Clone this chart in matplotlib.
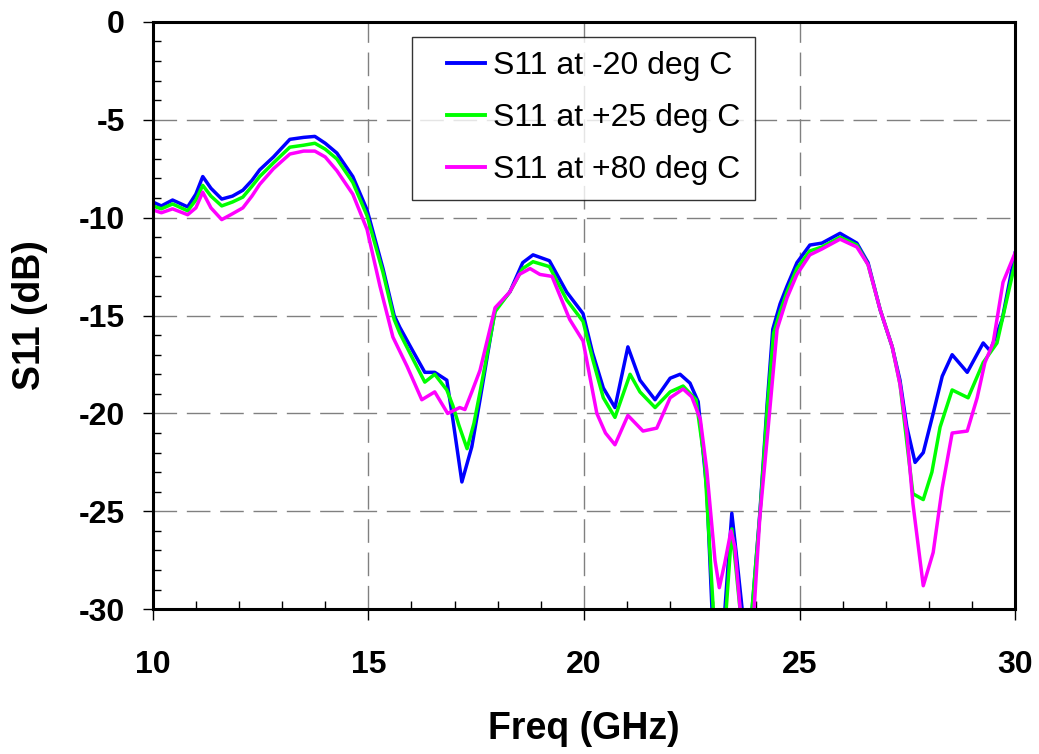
import matplotlib.pyplot as plt
from matplotlib.ticker import MultipleLocator
from matplotlib.legend_handler import HandlerLine2D

# S11 vs frequency at three temperatures
freq_m20 = [10.0, 10.2, 10.46, 10.81, 11.0, 11.16, 11.35, 11.6, 11.85, 12.09, 12.3, 12.48, 12.8,
            13.18, 13.5, 13.76, 14.0, 14.27, 14.64, 14.97, 15.34, 15.6, 15.73, 16.03, 16.31, 16.54,
            16.82, 16.96, 17.17, 17.4, 17.59, 17.94, 18.28, 18.58, 18.82, 19.2, 19.6, 19.98, 20.2,
            20.45, 20.72, 21.02, 21.3, 21.65, 22.0, 22.23, 22.46, 22.65, 22.85, 22.97, 23.1, 23.27,
            23.43, 23.55, 23.67, 23.78, 23.9, 24.08, 24.25, 24.38, 24.55, 24.71, 24.94, 25.24, 25.52,
            25.94, 26.33, 26.59, 26.87, 27.15, 27.33, 27.49, 27.68, 27.87, 28.1, 28.31, 28.54, 28.89,
            29.26, 29.42, 29.7, 30.0]
s11_m20 = [-9.2, -9.4, -9.1, -9.45, -8.8, -7.9, -8.5, -9.05, -8.9, -8.6, -8.1, -7.56, -6.9,
           -6.0, -5.9, -5.85, -6.2, -6.7, -7.9, -9.6, -12.6, -15.0, -15.6, -16.8, -17.9, -17.9,
           -18.3, -20.3, -23.5, -21.7, -19.3, -14.7, -13.8, -12.3, -11.9, -12.2, -13.8, -14.9, -16.9,
           -18.7, -19.7, -16.6, -18.3, -19.3, -18.2, -18.0, -18.45, -19.4, -23.9, -30.0, -32.0, -30.0,
           -25.1, -27.5, -30.0, -32.0, -30.0, -25.1, -19.5, -15.7, -14.4, -13.5, -12.3, -11.4, -11.3,
           -10.8, -11.3, -12.3, -14.7, -16.6, -18.3, -20.7, -22.5, -22.0, -20.0, -18.1, -17.0, -17.9,
           -16.4, -16.8, -15.2, -11.8]

freq_p25 = [10.0, 10.2, 10.46, 10.81, 11.0, 11.16, 11.35, 11.6, 11.85, 12.09, 12.3, 12.48, 12.8,
            13.18, 13.5, 13.76, 14.0, 14.27, 14.64, 14.97, 15.34, 15.6, 15.73, 16.03, 16.31, 16.54,
            16.82, 16.96, 17.1, 17.29, 17.45, 17.6, 17.94, 18.28, 18.58, 18.82, 19.2, 19.6, 19.98,
            20.2, 20.45, 20.72, 21.07, 21.3, 21.65, 22.0, 22.3, 22.6, 22.8, 23.0, 23.15, 23.3, 23.43,
            23.53, 23.62, 23.75, 23.9, 24.08, 24.25, 24.4, 24.55, 24.71, 24.94, 25.24, 25.52, 25.94,
            26.33, 26.59, 26.87, 27.15, 27.33, 27.49, 27.63, 27.87, 28.07, 28.26, 28.54, 28.91, 29.26,
            29.58, 30.0]
s11_p25 = [-9.4, -9.55, -9.3, -9.65, -9.1, -8.35, -8.9, -9.4, -9.2, -8.95, -8.4, -7.9, -7.2,
           -6.4, -6.3, -6.2, -6.5, -7.0, -8.2, -9.9, -12.8, -15.2, -15.9, -17.2, -18.4, -18.0,
           -18.8, -19.6, -20.6, -21.8, -20.5, -18.8, -14.8, -13.8, -12.6, -12.25, -12.5, -14.2, -15.3,
           -17.2, -19.2, -20.2, -18.0, -18.9, -19.7, -18.9, -18.6, -19.3, -22.5, -30.0, -32.0, -30.0, -25.9,
           -28.0, -30.0, -32.0, -30.0, -25.2, -19.8, -15.9, -14.8, -13.8, -12.6, -11.7, -11.5, -11.0,
           -11.4, -12.4, -14.7, -16.6, -18.5, -21.5, -24.1, -24.4, -23.0, -20.7, -18.8, -19.2, -17.4,
           -16.4, -12.3]

freq_p80 = [10.0, 10.2, 10.46, 10.81, 11.0, 11.16, 11.35, 11.6, 11.85, 12.09, 12.3, 12.48, 12.8,
            13.18, 13.5, 13.76, 14.0, 14.27, 14.64, 14.97, 15.27, 15.57, 15.9, 16.24, 16.54, 16.84,
            17.12, 17.24, 17.4, 17.59, 17.94, 18.28, 18.5, 18.75, 18.98, 19.26, 19.67, 19.98, 20.3,
            20.5, 20.72, 21.02, 21.37, 21.69, 22.0, 22.3, 22.5, 22.7, 22.85, 23.04, 23.14, 23.27, 23.41,
            23.5, 23.62, 23.75, 23.95, 24.08, 24.27, 24.48, 24.71, 24.94, 25.24, 25.52, 25.94, 26.33,
            26.59, 26.87, 27.15, 27.33, 27.49, 27.63, 27.87, 28.1, 28.31, 28.54, 28.89, 29.12, 29.3,
            29.49, 29.72, 30.0]
s11_p80 = [-9.6, -9.75, -9.55, -9.85, -9.5, -8.7, -9.5, -10.1, -9.8, -9.5, -8.9, -8.3, -7.5,
           -6.75, -6.6, -6.6, -6.9, -7.6, -8.8, -10.6, -13.5, -16.1, -17.6, -19.3, -18.9, -20.0,
           -19.7, -19.8, -18.9, -17.8, -14.6, -13.8, -12.9, -12.6, -12.9, -13.0, -15.2, -16.3, -20.0,
           -21.0, -21.6, -20.1, -20.9, -20.75, -19.2, -18.75, -19.15, -20.3, -22.9, -27.5, -28.9, -27.6, -26.0,
           -26.8, -29.9, -32.0, -29.9, -25.3, -20.8, -15.7, -14.1, -12.9, -11.9, -11.6, -11.1, -11.5,
           -12.4, -14.7, -16.6, -18.5, -21.0, -24.6, -28.8, -27.1, -23.8, -21.0, -20.9, -19.2, -17.4,
           -16.4, -13.3, -11.8]

labels = ["S11 at -20 deg C", "S11 at +25 deg C", "S11 at +80 deg C"]

plt.rcParams['font.family'] = ['Liberation Sans', 'DejaVu Sans']
plt.rcParams['axes.unicode_minus'] = False


class ShortLine(HandlerLine2D):
    # legend line drawn only on the right part of the handle box (Excel-like indent)
    def get_xdata(self, legend, xdescent, ydescent, width, height, fontsize):
        xs = [-xdescent + 0.35 * width, -xdescent + width]
        return xs, xs


fig = plt.figure(figsize=(10.39, 7.54), dpi=100)
ax = fig.add_axes([0.147, 0.192, 0.83, 0.779])

ax.plot(freq_m20, s11_m20, color='#0000ff', lw=2.5, label=labels[0])
ax.plot(freq_p25, s11_p25, color='#00ff00', lw=2.5, label=labels[1])
ax.plot(freq_p80, s11_p80, color='#ff00ff', lw=2.5, label=labels[2])

ax.set_xlim(10, 30)
ax.set_ylim(-30, 0)
ax.xaxis.set_major_locator(MultipleLocator(5))
ax.xaxis.set_minor_locator(MultipleLocator(1))
ax.yaxis.set_major_locator(MultipleLocator(5))
ax.yaxis.set_minor_locator(MultipleLocator(1))

ax.grid(True, which='major', color='#808080', linestyle=(0, (17, 7)), linewidth=1)
ax.set_axisbelow(True)

for s in ax.spines.values():
    s.set_linewidth(2.2)
    s.set_color('black')

ax.tick_params(which='major', direction='out', length=7, width=1, labelsize=23)
ax.tick_params(axis='x', which='major', length=8, pad=21)
ax.tick_params(axis='y', which='major', pad=13)
ax.tick_params(which='minor', direction='in', length=6, width=1)
for lab in ax.get_xticklabels() + ax.get_yticklabels():
    lab.set_fontweight('bold')

ax.set_xlabel('Freq (GHz)', fontsize=27, fontweight='bold', labelpad=23)
ax.set_ylabel('S11 (dB)', fontsize=27, fontweight='bold', labelpad=22)

leg = ax.legend(loc='upper left', bbox_to_anchor=(412 / 1039, 1 - 37 / 754),
                bbox_transform=fig.transFigure, fontsize=23, frameon=True, fancybox=False,
                edgecolor='black', handlelength=1.85, handletextpad=0.25, labelspacing=0.69,
                borderpad=0.45, borderaxespad=0,
                handler_map={plt.Line2D: ShortLine()})
leg.get_frame().set_linewidth(1)
for line in leg.get_lines():
    line.set_linewidth(2.8)

plt.savefig('out.png', dpi=100)
